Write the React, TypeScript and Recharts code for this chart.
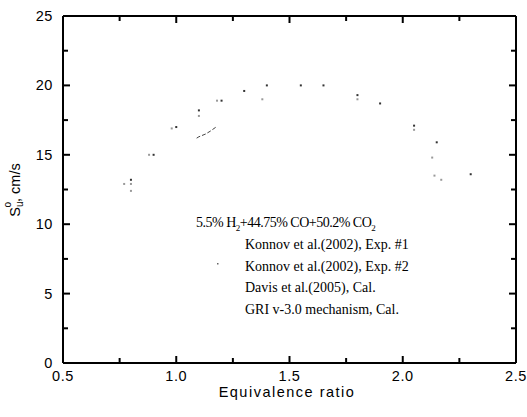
import React from 'react';
import { ScatterChart, Scatter, XAxis, YAxis } from 'recharts';

// Konnov et al. (2002), Exp. #1
const exp1Phi = [0.8, 0.9, 1.0, 1.1, 1.2, 1.3, 1.4, 1.55, 1.65, 1.8, 1.9, 2.05, 2.15, 2.3];
const exp1Su = [13.2, 15.0, 17.0, 18.2, 18.9, 19.6, 20.0, 20.0, 20.0, 19.3, 18.7, 17.1, 15.9, 13.6];

// Konnov et al. (2002), Exp. #2
const exp2Phi = [0.77, 0.8, 0.8, 0.88, 0.98, 1.1, 1.18, 1.38, 1.8, 2.05, 2.13, 2.14, 2.17];
const exp2Su = [12.9, 12.9, 12.4, 15.0, 16.9, 17.8, 18.9, 19.0, 19.0, 16.8, 14.8, 13.5, 13.2];

// Davis et al. (2005), Cal. (only a short piece is visible)
const davisPhi = [1.09, 1.1, 1.13, 1.15, 1.18];
const davisSu = [16.2, 16.3, 16.5, 16.7, 17.05];

const xTicks = [0.5, 0.75, 1.0, 1.25, 1.5, 1.75, 2.0, 2.25, 2.5];
const yTicks = [0, 2.5, 5, 7.5, 10, 12.5, 15, 17.5, 20, 22.5, 25];

const legendLines = [
  'Konnov et al.(2002), Exp. #1',
  'Konnov et al.(2002), Exp. #2',
  'Davis et al.(2005), Cal.',
  'GRI v-3.0 mechanism, Cal.',
];

const zip = (xs: number[], ys: number[]) => xs.map((x, i) => ({ x, y: ys[i] }));

const exp1 = zip(exp1Phi, exp1Su);
const exp2 = zip(exp2Phi, exp2Su);
const davis = zip(davisPhi, davisSu);

const sans = 'Arial, "Liberation Sans", sans-serif';
const serif = '"Times New Roman", "Liberation Serif", serif';

const AxisTick = (props: any) => {
  const { x, y, payload, side } = props;
  const v = payload.value;
  const isX = side === 'bottom' || side === 'top';
  const major = isX ? Math.abs(v * 2 - Math.round(v * 2)) < 1e-6 : v % 5 === 0;
  const len = major ? 7 : 5;
  let x2 = x;
  let y2 = y;
  if (side === 'bottom') y2 = y - len;
  else if (side === 'top') y2 = y + len;
  else if (side === 'left') x2 = x + len;
  else x2 = x - len;

  let label = null;
  if (major && side === 'bottom') {
    label = (
      <text x={x} y={y + 18} textAnchor="middle" fontFamily={sans} fontSize={14.5} letterSpacing={0.6} fill="#000">
        {v.toFixed(1)}
      </text>
    );
  }
  if (major && side === 'left') {
    label = (
      <text x={x - 10} y={y + 5} textAnchor="end" fontFamily={sans} fontSize={14.5} letterSpacing={0.6} fill="#000">
        {String(v)}
      </text>
    );
  }
  return (
    <g>
      <path d={`M${x},${y}L${x2},${y2}`} stroke="#000" strokeWidth={2} fill="none" />
      {label}
    </g>
  );
};

const Dot = (props: any) => {
  const { cx, cy, fill } = props;
  if (cx == null || cy == null) return null;
  return <rect x={cx - 1} y={cy - 1} width={2} height={2} fill={fill} />;
};

const NoShape = () => null;

export default function App() {
  const axisLine = { stroke: '#000', strokeWidth: 2 };
  return (
    <div style={{ position: 'absolute', left: 0, top: 0, width: 527, height: 417, background: '#fff' }}>
      <ScatterChart width={527} height={417} margin={{ top: 15, right: 10, left: 0, bottom: 0 }}>
        <XAxis
          xAxisId="b"
          type="number"
          dataKey="x"
          domain={[0.5, 2.5]}
          ticks={xTicks}
          interval={0}
          height={54}
          tickSize={0}
          tickMargin={0}
          tickLine={false}
          axisLine={axisLine}
          tick={(p: any) => <AxisTick {...p} side="bottom" />}
          allowDataOverflow
        />
        <XAxis
          xAxisId="t"
          orientation="top"
          type="number"
          dataKey="x"
          domain={[0.5, 2.5]}
          ticks={xTicks}
          interval={0}
          height={1}
          tickSize={0}
          tickMargin={0}
          tickLine={false}
          axisLine={axisLine}
          tick={(p: any) => <AxisTick {...p} side="top" />}
          allowDataOverflow
        />
        <YAxis
          yAxisId="l"
          type="number"
          dataKey="y"
          domain={[0, 25]}
          ticks={yTicks}
          interval={0}
          width={63}
          tickSize={0}
          tickMargin={0}
          tickLine={false}
          axisLine={axisLine}
          tick={(p: any) => <AxisTick {...p} side="left" />}
          allowDataOverflow
        />
        <YAxis
          yAxisId="r"
          orientation="right"
          type="number"
          dataKey="y"
          domain={[0, 25]}
          ticks={yTicks}
          interval={0}
          width={1}
          tickSize={0}
          tickMargin={0}
          tickLine={false}
          axisLine={axisLine}
          tick={(p: any) => <AxisTick {...p} side="right" />}
          allowDataOverflow
        />
        <Scatter
          name="Konnov et al.(2002), Exp. #1"
          data={exp1}
          xAxisId="b"
          yAxisId="l"
          fill="#333"
          shape={<Dot />}
          isAnimationActive={false}
        />
        <Scatter
          name="Konnov et al.(2002), Exp. #2"
          data={exp2}
          xAxisId="b"
          yAxisId="l"
          fill="#999"
          shape={<Dot />}
          isAnimationActive={false}
        />
        <Scatter
          name="Davis et al.(2005), Cal."
          data={davis}
          xAxisId="b"
          yAxisId="l"
          line={{ stroke: '#444', strokeWidth: 1, strokeDasharray: '4 2' }}
          shape={<NoShape />}
          isAnimationActive={false}
        />
        {/* keeps the top and right frame axes bound to a series */}
        <Scatter
          data={davis}
          xAxisId="t"
          yAxisId="r"
          shape={<NoShape />}
          legendType="none"
          isAnimationActive={false}
        />
      </ScatterChart>
      <svg width={527} height={417} style={{ position: 'absolute', left: 0, top: 0, pointerEvents: 'none' }}>
        <text x={196} y={227} fontFamily={serif} fontSize={14} letterSpacing={-0.5} fill="#000">
          5.5% H
          <tspan fontSize={9} dy={4}>2</tspan>
          <tspan dy={-4}>+44.75% CO+50.2% CO</tspan>
          <tspan fontSize={9} dy={4}>2</tspan>
        </text>
        {legendLines.map((t, i) => (
          <text key={t} x={245} y={249 + i * 21.5} fontFamily={serif} fontSize={14} fill="#000">
            {t}
          </text>
        ))}
        <rect x={217} y={263} width={1.5} height={1.5} fill="#666" />
        <text x={287} y={397} textAnchor="middle" fontFamily={sans} fontSize={14.5} letterSpacing={1.5} fill="#000">
          Equivalence ratio
        </text>
        <text transform="translate(20,190) rotate(-90)" textAnchor="middle" fontFamily={sans} fontSize={14.5} fill="#000">
          S<tspan fontSize={10} dy={3}>u</tspan>
          <tspan fontSize={10} dx={-6} dy={-12}>o</tspan>
          <tspan fontSize={14.5} dy={9}>, cm/s</tspan>
        </text>
      </svg>
    </div>
  );
}
